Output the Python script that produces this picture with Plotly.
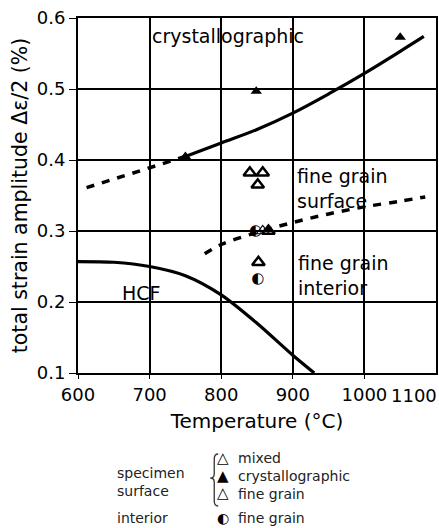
import plotly.graph_objects as go

# ---- data ----
crys_x = [750, 849, 1050]
crys_y = [0.405, 0.497, 0.573]

fine_x = [840, 858, 851, 852, 866]
fine_y = [0.382, 0.382, 0.365, 0.256, 0.300]

mixed_x = [858]
mixed_y = [0.300]

interior_x = [848, 851]
interior_y = [0.299, 0.232]

crys_curve_x = [750, 800, 850, 900, 950, 1000, 1050, 1083]
crys_curve_y = [0.405, 0.424, 0.443, 0.466, 0.493, 0.522, 0.553, 0.574]

upper_dash_x = [612, 700, 750]
upper_dash_y = [0.361, 0.389, 0.405]

lower_dash_x = [777, 800, 850, 900, 950, 1000, 1050, 1085]
lower_dash_y = [0.268, 0.281, 0.298, 0.312, 0.324, 0.334, 0.342, 0.348]

hcf_x = [600, 650, 700, 750, 800, 850, 900, 930]
hcf_y = [0.257, 0.256, 0.250, 0.237, 0.210, 0.170, 0.125, 0.100]

x_ticks = [600, 700, 800, 900, 1000]
x_last_tick = 1100
y_ticks = [0.1, 0.2, 0.3, 0.4, 0.5, 0.6]

FONT = "DejaVu Sans"

fig = go.Figure()

fig.add_trace(go.Scatter(x=crys_curve_x, y=crys_curve_y, mode="lines",
                         line=dict(color="black", width=3.2, shape="spline")))
fig.add_trace(go.Scatter(x=upper_dash_x, y=upper_dash_y, mode="lines",
                         line=dict(color="black", width=3.5, dash="8px,8px")))
fig.add_trace(go.Scatter(x=lower_dash_x, y=lower_dash_y, mode="lines",
                         line=dict(color="black", width=3.5, dash="8px,8px", shape="spline")))
fig.add_trace(go.Scatter(x=hcf_x, y=hcf_y, mode="lines",
                         line=dict(color="black", width=3.2, shape="spline", smoothing=0.8)))

fig.add_trace(go.Scatter(x=crys_x, y=crys_y, mode="markers",
                         marker=dict(symbol="triangle-up", size=10, color="black")))
fig.add_trace(go.Scatter(x=fine_x, y=fine_y, mode="markers",
                         marker=dict(symbol="triangle-up-open", size=11, color="black",
                                     line=dict(width=2.5, color="black"))))
fig.add_trace(go.Scatter(x=mixed_x, y=mixed_y, mode="markers",
                         marker=dict(symbol="triangle-up-open", size=11, color="black",
                                     line=dict(width=1.2, color="black"))))
fig.add_trace(go.Scatter(x=interior_x, y=interior_y, mode="text", text=["◐"] * len(interior_x),
                         textfont=dict(family=FONT, size=15, color="black"),
                         textposition="middle center"))

ann = []
def a(text, x, y, xref="x", yref="y", size=19, xanchor="left", color="black",
      yanchor="middle", xshift=0):
    ann.append(dict(text=text, x=x, y=y, xref=xref, yref=yref, showarrow=False,
                    xanchor=xanchor, yanchor=yanchor, align="left", xshift=xshift,
                    font=dict(family=FONT, size=size, color=color)))

a("crystallographic", 700, 0.575)
a("fine grain<br>surface", 903, 0.36)
a("fine grain<br>interior", 904, 0.238)
a("HCF", 688, 0.213, xanchor="center")
a(str(x_last_tick), x_last_tick, -0.028, yref="paper", xanchor="right", yanchor="top",
  size=18, xshift=3)

# legend block (paper coordinates)
lg = "#222"
def px(X):
    return (X - 78) / 360
def py(Y):
    return (373 - Y) / 355

a("specimen<br>surface", px(115), py(482), xref="paper", yref="paper", size=14, color=lg)
a("△", px(224), py(458), xref="paper", yref="paper", size=15, xanchor="center")
a("▲", px(224), py(476), xref="paper", yref="paper", size=15, xanchor="center")
a("<b>△</b>", px(224), py(493), xref="paper", yref="paper", size=15, xanchor="center")
a("mixed", px(237), py(458), xref="paper", yref="paper", size=14, color=lg)
a("crystallographic", px(237), py(476), xref="paper", yref="paper", size=14, color=lg)
a("fine grain", px(237), py(494), xref="paper", yref="paper", size=14, color=lg)
a("interior", px(115), py(518), xref="paper", yref="paper", size=14, color=lg)
a("◐", px(224), py(518), xref="paper", yref="paper", size=14, xanchor="center")
a("fine grain", px(237), py(518), xref="paper", yref="paper", size=14, color=lg)

# curly brace of the legend
brace = (f"M {px(219)},{py(454)} Q {px(215)},{py(454)} {px(215)},{py(459)} "
         f"L {px(215)},{py(474)} Q {px(215)},{py(478)} {px(211)},{py(478)} "
         f"Q {px(215)},{py(478)} {px(215)},{py(482)} "
         f"L {px(215)},{py(501)} Q {px(215)},{py(506)} {px(219)},{py(506)}")

fig.update_layout(
    width=439, height=528,
    margin=dict(l=78, r=1, t=18, b=155),
    paper_bgcolor="white", plot_bgcolor="white",
    showlegend=False,
    font=dict(family=FONT, size=18, color="black"),
    annotations=ann,
    shapes=[dict(type="path", path=brace, xref="paper", yref="paper",
                 line=dict(color="#333", width=1.3))],
    xaxis=dict(range=[600, 1100], tickvals=x_ticks, ticktext=[str(v) for v in x_ticks],
               showgrid=True, gridcolor="black", gridwidth=1.5,
               showline=True, linecolor="black", linewidth=2, mirror=True,
               ticks="outside", ticklen=4, tickcolor="black", zeroline=False,
               tickfont=dict(family=FONT, size=18),
               title=dict(text="Temperature (°C)", font=dict(family=FONT, size=20), standoff=10)),
    yaxis=dict(range=[0.1, 0.6], tickvals=y_ticks, ticktext=[f"{v:.1f}" for v in y_ticks],
               showgrid=True, gridcolor="black", gridwidth=1.5,
               showline=True, linecolor="black", linewidth=2, mirror=True,
               ticks="outside", ticklen=7, tickcolor="black", zeroline=False,
               tickfont=dict(family=FONT, size=18),
               title=dict(text="total strain amplitude Δε/2 (%)", font=dict(family=FONT, size=20.5),
                          standoff=4)),
)

fig.write_html("out.html")
